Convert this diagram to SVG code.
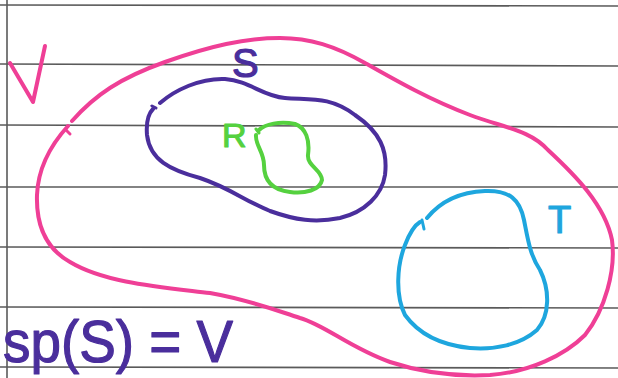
<svg xmlns="http://www.w3.org/2000/svg" width="618" height="378" viewBox="0 0 618 378">
<style>
.rule{stroke:#5a5a5a;stroke-width:1.6;fill:none}
.c{fill:none;stroke-width:4;stroke-linecap:round;stroke-linejoin:round}
.pink{stroke:#ef3f96}
.purple{stroke:#4a2e9c}
.green{stroke:#55d13f}
.blue{stroke:#1ea6de}
.lbl{font-family:"Liberation Sans",Arial,sans-serif;stroke-width:1.2;stroke-linejoin:round}
</style>
<rect width="618" height="378" fill="#ffffff"/>
<g id="paper">
<line class="rule" x1="0" y1="5" x2="618" y2="6"/>
<line class="rule" x1="0" y1="64" x2="618" y2="66"/>
<line class="rule" x1="0" y1="125" x2="618" y2="127"/>
<line class="rule" x1="0" y1="187" x2="618" y2="187"/>
<line class="rule" x1="0" y1="247" x2="618" y2="248"/>
<line class="rule" x1="0" y1="307" x2="618" y2="308"/>
<line class="rule" x1="0" y1="367" x2="618" y2="368"/>
<line class="rule" x1="7" y1="0" x2="7" y2="378"/>
</g>
<g id="V-set">
<path class="c pink" d="M72,121 C95,95 120,78 165,62 C210,46 245,38 280,38 C310,38 335,46 365,63 C395,80 430,100 470,115 C505,128 530,130 548,150 C575,175 605,205 612,240 C616,270 605,310 585,335 C565,355 530,372 490,375 C450,377 420,372 390,362 C350,348 325,325 300,318 C275,310 250,300 210,293 C160,287 105,283 70,262 C45,248 36,225 37,195 C38,170 48,148 68,126"/>
<path class="c pink" d="M66,130 L70,134" style="stroke-width:3"/>
<path class="c pink" d="M10,63 L33,102 L45,46"/>
</g>
<g id="S-set">
<path class="c purple" d="M160,103 C175,90 200,78 225,79 C250,81 262,96 285,98 C310,100 330,96 355,115 C380,132 388,150 385,175 C382,195 365,212 340,218 C315,223 295,220 270,211 C245,201 230,188 200,178 C170,170 150,160 147,135 C146,122 148,114 153,109"/>
<path class="c purple" d="M152,106 L156,108" style="stroke-width:3"/>
<text class="lbl" x="232" y="77" font-size="40" fill="#4a2e9c" stroke="#4a2e9c">S</text>
</g>
<g id="R-set">
<path class="c green" d="M259,130 C265,124 280,121 295,124 C306,128 310,140 308,155 C307,166 322,170 322,180 C320,190 305,194 290,192 C272,190 264,180 264,165 C264,152 255,145 256,135"/>
<path class="c green" d="M256,129 L259,133" style="stroke-width:3"/>
<text class="lbl" x="222" y="147" font-size="34" fill="#55d13f" stroke="#55d13f">R</text>
</g>
<g id="T-set">
<path class="c blue" d="M427,218 C440,202 460,192 485,191 C510,190 520,200 524,220 C528,240 530,255 540,270 C550,290 550,315 537,330 C520,345 495,350 470,348 C440,345 418,333 405,315 C395,295 397,265 405,245 C410,232 415,225 420,222"/>
<path class="c blue" d="M422,220 L424,229" style="stroke-width:3"/>
<text class="lbl" x="548" y="233" font-size="38" fill="#1ea6de" stroke="#1ea6de">T</text>
</g>
<g id="equation">
<text class="lbl" x="3" y="362" font-size="60" fill="#4a2e9c" stroke="#4a2e9c" textLength="230" lengthAdjust="spacingAndGlyphs">sp(S) = V</text>
</g>
</svg>
